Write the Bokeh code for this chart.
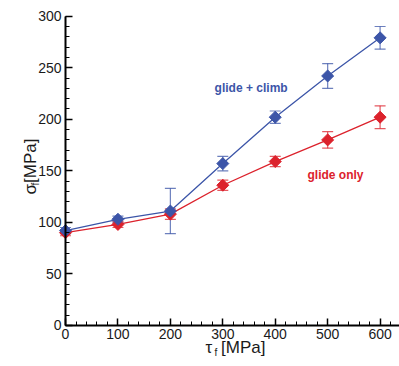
from bokeh.plotting import figure
from bokeh.models import (ColumnDataSource, Whisker, TeeHead, Label, Range1d,
                          SingleIntervalTicker)
from bokeh.embed import file_html
from bokeh.resources import INLINE
import math

# ---- data ----
tau = [0, 100, 200, 300, 400, 500, 600]
glide_climb = [92, 103, 111, 157, 202, 242, 279]
glide_climb_err = [3, 3, 22, 7, 6, 12, 11]
glide_only = [90, 98, 108, 136, 159, 180, 202]
glide_only_err = [3, 3, 5, 5, 5, 8, 11]

BLUE = "#3c55a8"
RED = "#dc222c"
FONT = "Liberation Sans"

# frame spans the whole canvas; axes are pinned at x=0 / y=0
p = figure(width=399, height=366, output_backend="svg", toolbar_location=None,
           x_range=Range1d(-124, 637), y_range=Range1d(-39.8, 315.2),
           min_border_left=0, min_border_right=0, min_border_top=0,
           min_border_bottom=0)
p.outline_line_color = None
p.xgrid.visible = False
p.ygrid.visible = False
p.background_fill_color = "white"
p.border_fill_color = "white"

p.xaxis.ticker = SingleIntervalTicker(interval=100, num_minor_ticks=5)
p.yaxis.ticker = SingleIntervalTicker(interval=50, num_minor_ticks=5)
p.xaxis.fixed_location = 0
p.yaxis.fixed_location = 0
p.xaxis.bounds = (0, 637)
p.yaxis.bounds = (0, 300)
for ax in (p.xaxis, p.yaxis):
    ax.axis_line_width = 2
    ax.axis_line_color = "black"
    ax.major_tick_in = 7
    ax.major_tick_out = 0
    ax.minor_tick_in = 4
    ax.minor_tick_out = 0
    ax.major_tick_line_width = 1.5
    ax.minor_tick_line_width = 1
    ax.major_tick_line_color = "black"
    ax.minor_tick_line_color = "black"
    ax.major_label_text_font = FONT
    ax.major_label_text_font_size = "14px"
    ax.major_label_text_color = "#1a1a1a"
    ax.major_label_standoff = 4
    ax.axis_label = None

def add_series(y, err, color):
    src = ColumnDataSource(dict(x=tau, y=y,
                                upper=[a + e for a, e in zip(y, err)],
                                lower=[a - e for a, e in zip(y, err)]))
    w = Whisker(source=src, base="x", upper="upper", lower="lower",
                line_color=color, line_alpha=0.75, line_width=1.2,
                upper_head=TeeHead(size=11, line_color=color, line_alpha=0.75, line_width=1.2),
                lower_head=TeeHead(size=11, line_color=color, line_alpha=0.75, line_width=1.2))
    p.add_layout(w)
    p.line("x", "y", source=src, line_color=color, line_width=1.3)
    p.scatter("x", "y", source=src, marker="square", angle=math.pi / 4,
              size=8.5, fill_color=color, line_color=color)

add_series(glide_only, glide_only_err, RED)
add_series(glide_climb, glide_climb_err, BLUE)

p.add_layout(Label(x=354, y=230.4, text="glide + climb", text_align="center",
                   text_baseline="alphabetic", text_font=FONT,
                   text_font_size="12px", text_font_style="bold",
                   text_color=BLUE))
p.add_layout(Label(x=515, y=146, text="glide only", text_align="center",
                   text_baseline="alphabetic", text_font=FONT,
                   text_font_size="12px", text_font_style="bold",
                   text_color=RED))

# axis titles (with subscripts) in screen units (frame = canvas, y up)
def lab(x, y, text, size, angle=0.0):
    p.add_layout(Label(x=x, y=y, x_units="screen", y_units="screen", text=text,
                       angle=angle, text_align="left", text_baseline="alphabetic",
                       text_font=FONT, text_font_size=size, text_color="#1a1a1a"))

# y-axis title: σ_f [MPa]
lab(30, 172, "σ", "17px", math.pi / 2)
lab(35, 181, "f", "10px", math.pi / 2)
lab(30, 183.5, "[MPa]", "17px", math.pi / 2)
# x-axis title: τ_f [MPa]
lab(205, 19, "τ", "17px")
lab(214, 14.5, "f", "10px")
lab(220.5, 19, "[MPa]", "17px")

open("out.html", "w").write(file_html(p, INLINE))
